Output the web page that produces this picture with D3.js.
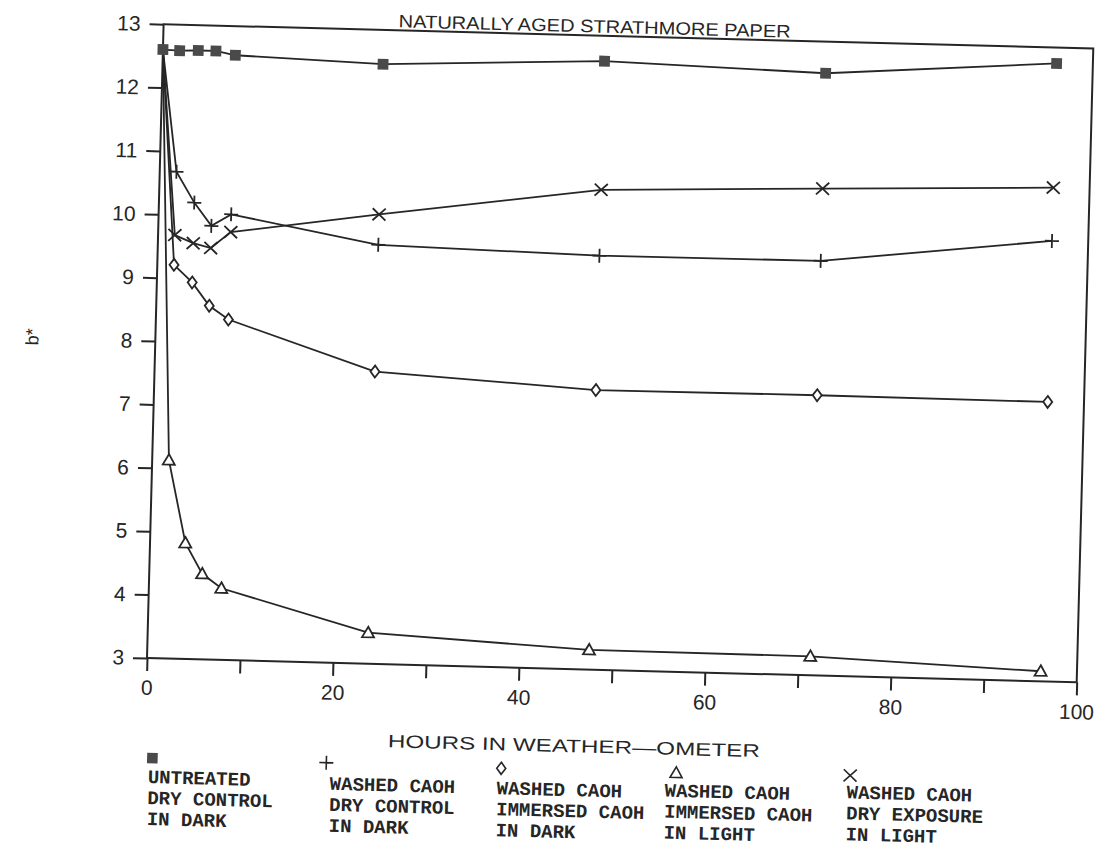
<!DOCTYPE html>
<html lang="en">
<head>
  <meta charset="UTF-8">
  <title>Naturally Aged Strathmore Paper</title>
  <script src="https://d3js.org/d3.v7.min.js"></script>
  <style>
    body { margin: 0; background: #fff; }
  </style>
</head>
<body>
  <svg id="chart" width="1113" height="850"></svg>

  <script>
    // hours in weather-ometer, shared by every series
    const hours = [0, 1.8, 3.8, 5.7, 7.8, 23.7, 47.5, 71.3, 96.1]

    // b* values
    const untreatedDryDark = [12.6, 12.59, 12.6, 12.6, 12.54, 12.46, 12.6, 12.5, 12.75]
    const washedDryDark = [12.6, 10.68, 10.2, 9.84, 10.03, 9.61, 9.53, 9.54, 9.95]
    const washedImmersedDark = [12.6, 9.21, 8.94, 8.58, 8.37, 7.61, 7.41, 7.42, 7.41]
    const washedImmersedLight = [12.6, 6.13, 4.83, 4.35, 4.13, 3.49, 3.31, 3.3, 3.16]
    const washedDryLight = [12.6, 9.68, 9.56, 9.49, 9.75, 10.09, 10.57, 10.68, 10.79]

    const xTicks = [0, 10, 20, 30, 40, 50, 60, 70, 80, 90, 100]
    const xLabels = [0, 20, 40, 60, 80, 100]
    const yTicks = [3, 4, 5, 6, 7, 8, 9, 10, 11, 12, 13]

    const legendLabels = [
      ["UNTREATED", "DRY CONTROL", "IN DARK"],
      ["WASHED CAOH", "DRY CONTROL", "IN DARK"],
      ["WASHED CAOH", "IMMERSED CAOH", "IN DARK"],
      ["WASHED CAOH", "IMMERSED CAOH", "IN LIGHT"],
      ["WASHED CAOH", "DRY EXPOSURE", "IN LIGHT"]
    ]
    const markerKinds = ["square", "plus", "diamond", "triangle", "cross"]

    const series = [untreatedDryDark, washedDryDark, washedImmersedDark, washedImmersedLight, washedDryLight]
      .map((vals, i) => ({
        kind: markerKinds[i],
        points: vals.map((v, j) => ({ hour: hours[j], b: v }))
      }))

    const ink = "#262626"
    const plotLeft = 147, plotTop = 24, plotWidth = 930, plotHeight = 634
    const plotBottom = plotTop + plotHeight

    const svg = d3.select("#chart")
    // the scanned page sits slightly turned, so the whole drawing is turned with it
    const root = svg.append("g")
      .attr("transform", "rotate(1.5," + plotLeft + "," + plotBottom + ")")

    const x = d3.scaleLinear().domain([0, 100]).range([plotLeft, plotLeft + plotWidth])
    const y = d3.scaleLinear().domain([3, 13]).range([plotBottom, plotTop])

    function markerPath(kind) {
      switch (kind) {
        case "square": return "M-4.5,-4.5h9v9h-9Z"
        case "plus": return "M-7,0H7M0,-7V7"
        case "diamond": return "M0,-6L4.5,0L0,6L-4.5,0Z"
        case "triangle": return "M0,-6L6,4.5L-6,4.5Z"
        case "cross": return "M-6.5,-6L6.5,6M-6.5,6L6.5,-6"
      }
    }
    function markerFill(kind) {
      if (kind === "square") return "#4a4a4a"
      if (kind === "diamond" || kind === "triangle") return "#fff"
      return "none"
    }

    // axes
    root.append("g")
      .attr("transform", "translate(0," + plotBottom + ")")
      .call(d3.axisBottom(x).tickValues(xTicks).tickSize(13).tickPadding(9)
        .tickFormat(d => xLabels.includes(d) ? d : ""))
      .call(g => g.select(".domain").remove())
      .call(g => g.selectAll("line").attr("stroke", ink).attr("stroke-width", 2))
      .call(g => g.selectAll("text").attr("fill", ink)
        .style("font-family", "'Liberation Sans', Arial, sans-serif").style("font-size", "21px"))

    root.append("g")
      .attr("transform", "translate(" + plotLeft + ",0)")
      .call(d3.axisLeft(y).tickValues(yTicks).tickSize(14).tickPadding(9))
      .call(g => g.select(".domain").remove())
      .call(g => g.selectAll("line").attr("stroke", ink).attr("stroke-width", 2))
      .call(g => g.selectAll("text").attr("fill", ink)
        .style("font-family", "'Liberation Sans', Arial, sans-serif").style("font-size", "21px"))

    root.append("rect")
      .attr("x", plotLeft)
      .attr("y", plotTop)
      .attr("width", plotWidth)
      .attr("height", plotHeight)
      .attr("fill", "none")
      .attr("stroke", ink)
      .attr("stroke-width", 2)

    // lines and markers
    const line = d3.line().x(d => x(d.hour)).y(d => y(d.b))

    series.forEach(s => {
      root.append("path")
        .datum(s.points)
        .attr("fill", "none")
        .attr("stroke", ink)
        .attr("stroke-width", 1.8)
        .attr("d", line)
    })

    // the shared starting point only shows the untreated square
    series.slice().reverse().forEach(s => {
      root.append("g")
        .selectAll("path")
        .data(s.kind === "square" ? s.points : s.points.slice(1))
        .join("path")
        .attr("transform", d => "translate(" + x(d.hour) + "," + y(d.b) + ")")
        .attr("d", markerPath(s.kind))
        .attr("fill", markerFill(s.kind))
        .attr("stroke", s.kind === "square" ? "#4a4a4a" : ink)
        .attr("stroke-width", 1.8)
    })

    // titles
    root.append("text")
      .attr("x", 578)
      .attr("y", 21)
      .attr("text-anchor", "middle")
      .attr("textLength", 392)
      .attr("lengthAdjust", "spacingAndGlyphs")
      .attr("fill", ink)
      .style("font-family", "'Liberation Sans Narrow', 'Liberation Sans', sans-serif")
      .style("font-size", "18px")
      .text("NATURALLY AGED STRATHMORE PAPER")

    root.append("text")
      .attr("x", 576)
      .attr("y", 741)
      .attr("text-anchor", "middle")
      .attr("textLength", 372)
      .attr("lengthAdjust", "spacingAndGlyphs")
      .attr("fill", ink)
      .style("font-family", "'Liberation Sans Narrow', 'Liberation Sans', sans-serif")
      .style("font-size", "18px")
      .text("HOURS IN WEATHER—OMETER")

    root.append("text")
      .attr("transform", "translate(30,340) rotate(-90)")
      .attr("text-anchor", "middle")
      .attr("fill", ink)
      .style("font-family", "'Liberation Sans', Arial, sans-serif")
      .style("font-size", "18px")
      .text("b*")

    // legend
    const legendX = [151, 333, 500, 668, 850]
    const legendMarkX = [155, 329, 504, 679, 853]
    const legendTextY = [783, 785, 785, 783, 780]
    const legendMarkY = [758, 758, 759, 759, 757]

    legendLabels.forEach((lines, i) => {
      const kind = markerKinds[i]
      root.append("path")
        .attr("transform", "translate(" + legendMarkX[i] + "," + legendMarkY[i] + ")")
        .attr("d", markerPath(kind))
        .attr("fill", markerFill(kind))
        .attr("stroke", kind === "square" ? "#4a4a4a" : ink)
        .attr("stroke-width", 1.6)

      const t = root.append("text")
        .attr("x", legendX[i])
        .attr("y", legendTextY[i])
        .attr("fill", ink)
        .style("font-family", "'Liberation Mono', 'DejaVu Sans Mono', monospace")
        .style("font-weight", "bold")
        .style("font-size", "19px")

      lines.forEach((txt, k) => {
        t.append("tspan")
          .attr("x", legendX[i])
          .attr("dy", k === 0 ? 0 : 21)
          .text(txt)
      })
    })
  </script>
</body>
</html>
